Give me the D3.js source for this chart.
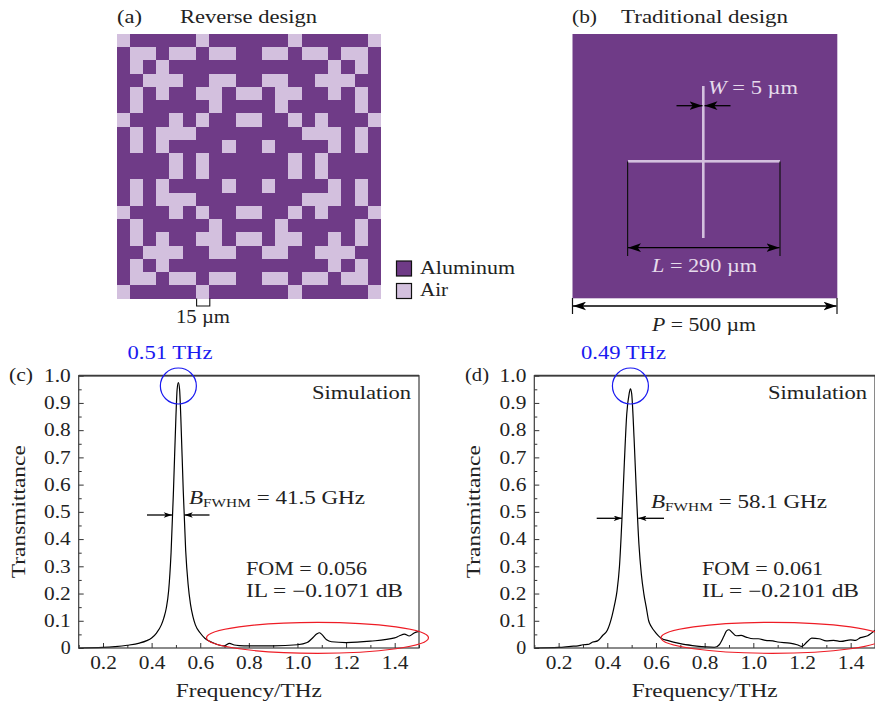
<!DOCTYPE html>
<html>
<head>
<meta charset="utf-8">
<title>Reverse design vs traditional design</title>
<script src="https://cdn.jsdelivr.net/npm/d3@7"></script>
<style>
  html, body { margin: 0; padding: 0; background: #fff; overflow: hidden; }
  text { font-family: "Liberation Serif", serif; fill: #222; }
</style>
</head>
<body>
<svg id="chart" width="875" height="703"></svg>
<script>
// 1 = air, 0 = aluminum
var gridRows = [
  "10000010000001000001",
  "01101101100110110110",
  "01010000000000001010",
  "00111001100110011100",
  "01010011011011001010",
  "01000001000010000010",
  "10001010011001010001",
  "01011100000000111010",
  "01010000100100001010",
  "00001010000001010000",
  "00001010000001010000",
  "01010000100100001010",
  "01011100000000111010",
  "10001010011001010001",
  "01000001000010000010",
  "01010011011011001010",
  "00111001100110011100",
  "01010000000000001010",
  "01101101100110110110",
  "10000010000001000001"
];

var freqC = [0.10,0.20,0.25,0.30,0.35,0.38,0.40,0.42,0.44,0.45,0.46,0.47,0.48,0.49,0.50,0.505,0.51,0.515,0.52,0.53,0.54,0.55,0.56,0.57,0.58,0.60,0.62,0.65,0.68,0.70,0.72,0.74,0.76,0.80,0.90,1.00,1.04,1.06,1.08,1.09,1.10,1.12,1.14,1.20,1.30,1.40,1.42,1.44,1.46,1.48,1.50];
var transC = [0,0.002,0.005,0.010,0.018,0.027,0.037,0.055,0.085,0.11,0.145,0.21,0.35,0.58,0.85,0.95,0.975,0.95,0.85,0.58,0.36,0.235,0.16,0.115,0.085,0.055,0.035,0.02,0.01,0.008,0.017,0.011,0.009,0.008,0.008,0.012,0.02,0.035,0.052,0.056,0.05,0.03,0.023,0.02,0.025,0.037,0.045,0.051,0.044,0.055,0.061];

var freqD = [0.10,0.20,0.25,0.28,0.30,0.32,0.34,0.36,0.38,0.40,0.42,0.43,0.44,0.45,0.46,0.47,0.48,0.49,0.495,0.50,0.51,0.52,0.53,0.54,0.55,0.56,0.57,0.58,0.60,0.62,0.65,0.70,0.75,0.80,0.84,0.86,0.88,0.89,0.90,0.91,0.93,0.95,0.97,1.00,1.02,1.05,1.08,1.10,1.15,1.18,1.20,1.22,1.24,1.27,1.30,1.33,1.36,1.40,1.42,1.44,1.47,1.50];
var transD = [0,0.002,0.006,0.008,0.012,0.013,0.022,0.026,0.045,0.065,0.12,0.16,0.21,0.30,0.47,0.68,0.86,0.935,0.952,0.935,0.77,0.56,0.38,0.27,0.20,0.15,0.10,0.08,0.055,0.037,0.027,0.016,0.009,0.004,0.002,0.012,0.045,0.063,0.067,0.06,0.045,0.046,0.04,0.034,0.034,0.028,0.026,0.022,0.018,0.012,0.006,0.022,0.036,0.034,0.026,0.028,0.024,0.03,0.028,0.038,0.045,0.065];

var xMajor = [0.2,0.4,0.6,0.8,1.0,1.2,1.4];
var xMinor = [0.1,0.3,0.5,0.7,0.9,1.1,1.3,1.5];
var yMajor = [0,0.1,0.2,0.3,0.4,0.5,0.6,0.7,0.8,0.9,1.0];
var yMinor = [0.05,0.15,0.25,0.35,0.45,0.55,0.65,0.75,0.85,0.95];

var purple = "#6f3b87", lilac = "#d3c0de";
var fontSize = 18;
var svg = d3.select("#chart");

var defs = svg.append("defs");
function addHead(id, w, h) {
  defs.append("marker").attr("id",id)
    .attr("viewBox","0 0 12 8").attr("refX",12).attr("refY",4)
    .attr("markerWidth",w).attr("markerHeight",h).attr("markerUnits","userSpaceOnUse")
    .attr("orient","auto-start-reverse")
    .append("path").attr("d","M0,0 L12,4 L0,8 L3,4 Z").attr("fill","#000");
}
addHead("head",13,9);
addHead("headSmall",11,5.5);

// the original font is much wider than anything installed, so stretch to the measured width
function fit(t, w) {
  if (w) t.attr("textLength",w).attr("lengthAdjust","spacingAndGlyphs");
  return t;
}

function label(x, y, str, w, opts) {
  opts = opts || {};
  var t = svg.append("text").attr("x",x).attr("y",y)
    .style("font-size",fontSize+"px")
    .attr("text-anchor",opts.anchor||"start")
    .text(str);
  if (opts.color) t.style("fill",opts.color);
  return fit(t, w);
}

function arrow(x1, y1, x2, y2, both, small) {
  var head = small ? "url(#headSmall)" : "url(#head)";
  var l = svg.append("line").attr("x1",x1).attr("y1",y1).attr("x2",x2).attr("y2",y2)
    .attr("stroke","#000").attr("stroke-width",1.3)
    .attr("marker-end",head);
  if (both) l.attr("marker-start",head);
}

// (a) the pixel pattern
var cellX = d3.scaleBand().domain(d3.range(20)).range([116.5,381]);
var cellY = d3.scaleBand().domain(d3.range(20)).range([34,298.5]);
var cells = [];
gridRows.forEach(function(row, r) {
  row.split("").forEach(function(c, i) { cells.push({r:r, c:i, air:c==="1"}); });
});
svg.append("g").attr("shape-rendering","crispEdges").selectAll("rect").data(cells).enter().append("rect")
  .attr("x",function(d){return cellX(d.c);})
  .attr("y",function(d){return cellY(d.r);})
  .attr("width",cellX.bandwidth())
  .attr("height",cellY.bandwidth())
  .attr("fill",function(d){return d.air?lilac:purple;});

label(117,23,"(a)",25);
label(180,23,"Reverse design",137);
svg.append("path").attr("fill","none").attr("stroke","#111").attr("stroke-width",1.1)
  .attr("d","M196.6,298.5V306H209.8V298.5");
label(176,323,"15 µm",54);

// legend
[["Aluminum",purple,261,274,95],["Air",lilac,283.5,296,28]].forEach(function(d) {
  svg.append("rect").attr("x",396.5).attr("y",d[2]).attr("width",15).attr("height",15)
    .attr("fill",d[1]).attr("stroke","#111").attr("stroke-width",1.2);
  label(420,d[3],d[0],d[4]);
});

// (b) the cross
label(572,23,"(b)",25);
label(621,23,"Traditional design",167);
svg.append("rect").attr("x",572.5).attr("y",34).attr("width",264.8).attr("height",264.3).attr("fill",purple);
svg.append("rect").attr("x",702).attr("y",86).attr("width",2.6).attr("height",152).attr("fill",lilac);
svg.append("rect").attr("x",628).attr("y",160).attr("width",152).attr("height",2.6).attr("fill",lilac);
svg.append("path").attr("fill","none").attr("stroke","#111").attr("stroke-width",1.2)
  .attr("d","M627.6,161.5V256M780,161.5V256M572.5,298V314M837,298V314");
arrow(676.5,105.7,702.5,105.7);
arrow(730.5,105.7,704.5,105.7);
arrow(628,247.7,779.5,247.7,true);
arrow(573,306,836.5,306,true);

function eqLabel(x, y, name, rest, w, color) {
  var t = label(x,y,"",w,{color:color});
  t.append("tspan").style("font-style","italic").text(name);
  t.append("tspan").text(rest);
}
eqLabel(708,94,"W"," = 5 µm",90,"#e6dcec");
eqLabel(652,272,"L"," = 290 µm",105,"#e6dcec");
eqLabel(652,331,"P"," = 500 µm",104);

// (c) and (d) spectra
function spectrum(p) {
  var x = d3.scaleLinear().domain([0.1,1.5]).range([p.left,p.right]);
  var y = d3.scaleLinear().domain([0,1]).range([648,375.7]);
  var g = svg.append("g");

  g.append("g").attr("transform","translate(0,648)")
    .call(d3.axisBottom(x).tickValues(xMinor).tickSize(-3).tickFormat(""));
  g.append("g").attr("class","xlabels").attr("transform","translate(0,648)")
    .call(d3.axisBottom(x).tickValues(xMajor).tickSize(-5).tickPadding(8).tickFormat(d3.format(".1f")));
  g.append("g").attr("transform","translate("+p.left+",0)")
    .call(d3.axisLeft(y).tickValues(yMinor).tickSize(-3).tickFormat(""));
  g.append("g").attr("class","ylabels").attr("transform","translate("+p.left+",0)")
    .call(d3.axisLeft(y).tickValues(yMajor).tickSize(-5).tickPadding(8)
      .tickFormat(function(d){return d===0?"0":d3.format(".1f")(d);}));
  g.selectAll(".domain").remove();
  g.selectAll("line").attr("stroke","#333").attr("stroke-width",1);
  g.selectAll("text").style("font-size",fontSize+"px").style("fill","#222")
    .each(function() {
      var t = d3.select(this);
      if (t.text()) fit(t, t.text()==="0" ? 10 : 26.7);
    });

  var pts = d3.zip(p.freq,p.trans);
  g.append("path").datum(pts).attr("fill","none").attr("stroke","#000").attr("stroke-width",1.2)
    .attr("d",d3.line().x(function(d){return x(d[0]);}).y(function(d){return y(d[1]);}).curve(d3.curveMonotoneX));

  g.append("rect").attr("x",p.left).attr("y",375.7).attr("width",p.right-p.left).attr("height",272.3)
    .attr("fill","none").attr("stroke","#3c3c3c").attr("stroke-width",1.2);
  g.append("line").attr("x1",p.left).attr("x2",p.right).attr("y1",375.7).attr("y2",375.7)
    .attr("stroke","#3c3c3c").attr("stroke-width",1.8);

  // callouts
  g.append("circle").attr("cx",x(p.peak)).attr("cy",386).attr("r",18)
    .attr("fill","none").attr("stroke","#1a1af0").attr("stroke-width",1.2);
  g.append("ellipse").attr("cx",p.ellipseX).attr("cy",637.8).attr("rx",111).attr("ry",15.5)
    .attr("fill","none").attr("stroke","#ee1c25").attr("stroke-width",1.2);

  arrow(p.arrows[0],p.arrowY,p.arrows[1],p.arrowY,false,true);
  arrow(p.arrows[3],p.arrowY,p.arrows[2],p.arrowY,false,true);

  label(p.peakLabelX,359,p.peakLabel,85,{color:"#1a1af0"});
  label(p.tagX,381,p.tag,24);
  label(p.right-107,399,"Simulation",99);
  fit(svg.append("text").attr("transform","translate("+(p.left-54)+",511.7) rotate(-90)")
    .attr("text-anchor","middle").style("font-size",fontSize+"px").text("Transmittance"),133);
  label((p.left+p.right)/2-73,697,"Frequency/THz",146);

  var b = label(p.bwX,p.bwY,"",176);
  b.append("tspan").style("font-style","italic").text("B");
  b.append("tspan").attr("dy",3).style("font-size","12px").text("FWHM");
  b.append("tspan").attr("dy",-3).text(" = "+p.bw);
  label(p.textX,575,p.fom,121);
  label(p.textX,597,p.il,157);
}

spectrum({left:78.7,right:419,freq:freqC,trans:transC,peak:0.51,peakLabel:"0.51 THz",peakLabelX:127.5,
  tag:"(c)",tagX:9,ellipseX:317.5,arrowY:515,arrows:[147,172,184.5,209.5],
  bwX:189,bwY:504,bw:"41.5 GHz",textX:246,fom:"FOM = 0.056",il:"IL = \u22120.1071 dB"});
spectrum({left:534.3,right:875,freq:freqD,trans:transD,peak:0.495,peakLabel:"0.49 THz",peakLabelX:581,
  tag:"(d)",tagX:465,ellipseX:772,arrowY:518.3,arrows:[596.7,622,638.3,664],
  bwX:651,bwY:508,bw:"58.1 GHz",textX:702,fom:"FOM = 0.061",il:"IL = \u22120.2101 dB"});
</script>
</body>
</html>
